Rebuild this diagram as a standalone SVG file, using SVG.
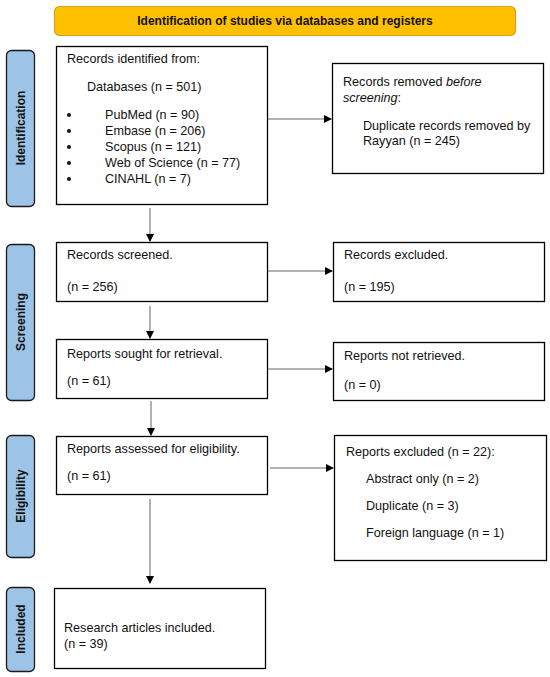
<svg xmlns="http://www.w3.org/2000/svg" width="550" height="677" viewBox="0 0 550 677">
<defs>
<marker id="ah" markerWidth="8" markerHeight="8" refX="7" refY="4" orient="auto" markerUnits="userSpaceOnUse">
<path d="M0,0 L8,4 L0,8 Z" fill="#000"/>
</marker>
<style>
.box{fill:#fff;stroke:#000;stroke-width:1.3}
.side{fill:#9DC3E6;stroke:#1a1a1a;stroke-width:1.3}
.t{font-family:"Liberation Sans",Arial,sans-serif;font-size:12.6px;fill:#111}
.sl{font-family:"Liberation Sans",Arial,sans-serif;font-size:12px;font-weight:bold;fill:#111;text-anchor:middle}
.c{stroke:#666;stroke-width:1;fill:none;marker-end:url(#ah)}
.b{fill:#111}
</style>
</defs>
<rect width="550" height="677" fill="#fff"/>
<g id="header">
<rect x="54.5" y="6.5" width="461" height="29" rx="5" fill="#FFC000" stroke="#D9A21B" stroke-width="1.2"/>
<text x="285" y="25" class="sl">Identification of studies via databases and registers</text>
</g>
<g id="lbl-identification"><rect x="6.5" y="50.5" width="28" height="156" rx="5" class="side"/><text class="sl" transform="translate(24.5,128) rotate(-90)">Identification</text></g>
<g id="lbl-screening"><rect x="6.5" y="244.5" width="28" height="156" rx="5" class="side"/><text class="sl" transform="translate(24.5,322) rotate(-90)">Screening</text></g>
<g id="lbl-eligibility"><rect x="6.5" y="435.5" width="28" height="122" rx="5" class="side"/><text class="sl" transform="translate(24.5,496) rotate(-90)">Eligibility</text></g>
<g id="lbl-included"><rect x="6.5" y="587.5" width="28" height="84" rx="5" class="side"/><text class="sl" transform="translate(24.5,629) rotate(-90)">Included</text></g>

<g id="identified">
<rect x="56.5" y="46.5" width="211" height="158" class="box"/>
<text class="t" x="67" y="63">Records identified from:</text>
<text class="t" x="87" y="91">Databases (n = 501)</text>
<circle class="b" cx="69" cy="115" r="2"/>
<circle class="b" cx="69" cy="131" r="2"/>
<circle class="b" cx="69" cy="147" r="2"/>
<circle class="b" cx="69" cy="163" r="2"/>
<circle class="b" cx="69" cy="179" r="2"/>
<text class="t" x="105" y="119">PubMed (n = 90)</text>
<text class="t" x="105" y="135">Embase (n = 206)</text>
<text class="t" x="105" y="151">Scopus (n = 121)</text>
<text class="t" x="105" y="167">Web of Science (n = 77)</text>
<text class="t" x="105" y="183">CINAHL (n = 7)</text>
</g>
<g id="removed">
<rect x="332.5" y="63.5" width="211" height="110" class="box"/>
<text class="t" x="343" y="86">Records removed <tspan font-style="italic">before</tspan></text>
<text class="t" x="343" y="102"><tspan font-style="italic">screening</tspan>:</text>
<text class="t" x="363" y="130">Duplicate records removed by</text>
<text class="t" x="363" y="145">Rayyan (n = 245)</text>
</g>
<g id="screened">
<rect x="56.5" y="242.5" width="211" height="59" class="box"/>
<text class="t" x="67" y="259">Records screened.</text>
<text class="t" x="67" y="291">(n = 256)</text>
</g>
<g id="excluded">
<rect x="333.5" y="242.5" width="211" height="59" class="box"/>
<text class="t" x="344" y="259">Records excluded.</text>
<text class="t" x="344" y="291">(n = 195)</text>
</g>
<g id="sought">
<rect x="56.5" y="339.5" width="211" height="59" class="box"/>
<text class="t" x="67" y="358">Reports sought for retrieval.</text>
<text class="t" x="67" y="385">(n = 61)</text>
</g>
<g id="notretrieved">
<rect x="333.5" y="342.5" width="211" height="58" class="box"/>
<text class="t" x="344" y="360">Reports not retrieved.</text>
<text class="t" x="344" y="389">(n = 0)</text>
</g>
<g id="assessed">
<rect x="56.5" y="436.5" width="211" height="58" class="box"/>
<text class="t" x="67" y="453">Reports assessed for eligibility.</text>
<text class="t" x="67" y="480">(n = 61)</text>
</g>
<g id="reportsexcluded">
<rect x="334.5" y="435.5" width="212" height="125" class="box"/>
<text class="t" x="346" y="456">Reports excluded (n = 22):</text>
<text class="t" x="366" y="483">Abstract only (n = 2)</text>
<text class="t" x="366" y="510">Duplicate (n = 3)</text>
<text class="t" x="366" y="537">Foreign language (n = 1)</text>
</g>
<g id="included">
<rect x="54.5" y="588.5" width="211" height="80" class="box"/>
<text class="t" x="64" y="632">Research articles included.</text>
<text class="t" x="64" y="648">(n = 39)</text>
</g>

<g id="connectors">
<line x1="268" y1="119" x2="331" y2="119" class="c"/>
<line x1="150" y1="208" x2="150" y2="241" class="c"/>
<line x1="268" y1="271" x2="332" y2="271" class="c"/>
<line x1="150" y1="306" x2="150" y2="338" class="c"/>
<line x1="268" y1="369" x2="332" y2="369" class="c"/>
<line x1="151" y1="401" x2="151" y2="435" class="c"/>
<line x1="270" y1="468" x2="333" y2="468" class="c"/>
<line x1="150" y1="499" x2="150" y2="583" class="c"/>
</g>
</svg>
